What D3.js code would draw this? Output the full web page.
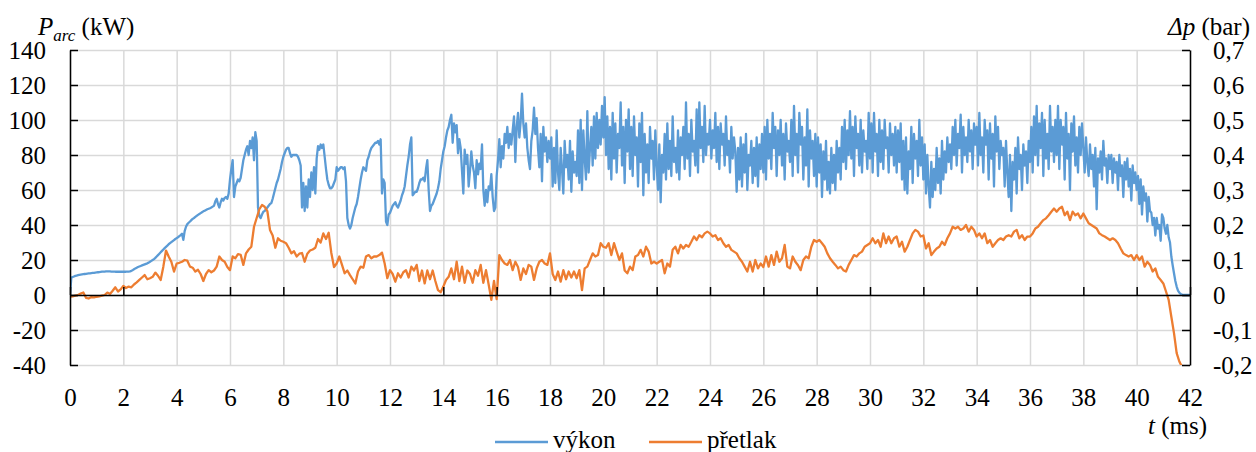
<!DOCTYPE html>
<html>
<head>
<meta charset="utf-8">
<script src="https://cdn.jsdelivr.net/npm/d3@7"></script>
<style>
  body { margin: 0; background: #fff; }
  svg text { font-family: "Liberation Serif", "DejaVu Serif", serif; fill: #000; }
</style>
</head>
<body>
<script>
// sample steps (ms)
var powerStep = 0.05;
var pressureStep = 0.1;

// výkon, kW (one row per ms)
var power = [
  0, 10, 10.3, 10.6, 10.9, 11.1, 11.3, 11.5, 11.7, 11.8, 11.9, 12.0, 12.1, 12.2, 12.3, 12.4, 12.5, 12.6, 12.7, 12.8,
  12.9, 13.0, 13.1, 13.2, 13.3, 13.4, 13.4, 13.5, 13.5, 13.5, 13.5, 13.4, 13.4, 13.4, 13.3, 13.3, 13.3, 13.3, 13.3, 13.3,
  13.3, 13.3, 13.3, 13.4, 13.4, 13.5, 13.8, 14.2, 14.7, 15.2, 15.6, 16.0, 16.3, 16.6, 16.9, 17.2, 17.5, 17.8, 18.1, 18.5,
  19.0, 19.5, 20.0, 20.5, 21.2, 22.0, 22.8, 23.6, 24.4, 25.2, 26.0, 26.8, 27.5, 28.2, 29.0, 29.6, 30.2, 30.8, 31.4, 32.0,
  32.5, 33.0, 33.6, 34.2, 35.0, 31.5, 36.5, 39.0, 40.5, 41.3, 42.0, 42.8, 43.5, 44.0, 44.6, 45.2, 45.8, 46.3, 46.8, 47.3,
  47.8, 48.2, 48.6, 49.0, 49.3, 49.6, 50.0, 50.5, 51.0, 53.5, 55.0, 52.0, 50.0, 53.0, 55.0, 54.0, 55.5, 56.0, 55.0, 58.0,
  66, 72, 77, 56, 62, 64, 66, 65, 67, 72, 77, 80, 83, 85, 80, 88, 84, 90, 77, 93,
  88, 50, 45, 44, 46, 47.6, 48, 49, 50, 51, 52, 52.5, 55, 58, 61, 64, 66, 69, 72, 76,
  79, 81, 83, 84, 84, 81, 79, 80, 80, 80, 80, 79, 77, 74, 50, 64, 48, 62, 50, 66,
  56, 70, 60, 73, 58, 78, 85, 83, 86, 84, 86, 79, 72, 66, 63, 61, 61, 62, 64, 66,
  73, 71, 72, 73, 73, 72, 73, 65, 44, 40, 38, 40, 44, 47, 50, 52, 56, 61, 66, 70,
  73, 72, 71, 77, 79, 82, 84, 85, 86, 87, 87, 88, 86, 89, 58, 66, 64, 42, 40, 46,
  47, 49, 51, 52, 53, 51, 50, 52, 54, 57, 59, 62, 68, 74, 79, 86, 90, 57, 58, 59,
  59, 61, 64, 66, 66, 67, 65, 72, 77, 60, 48, 51, 52, 54, 56, 58, 61, 65, 72, 77,
  82, 85, 90, 94, 96, 100, 103, 87, 98, 93, 97, 81, 89, 84, 71, 58, 83, 75, 80, 62,
  71, 82, 74, 70, 61, 77, 69, 75, 72, 86, 60, 51, 60, 53, 62, 60, 69, 56, 48, 50,
  68, 77, 89, 73, 85, 78, 92, 87, 96, 84, 92, 86, 94, 102, 76, 96, 104, 90, 99, 115,
  98, 90, 98, 84, 77, 72, 88, 94, 107, 92, 101, 84, 73, 92, 65, 96, 82, 90, 76, 88,
  78, 90, 62, 84, 64, 94, 70, 60, 84, 72, 58, 88, 73, 80, 66, 88, 59, 82, 70, 76,
  68, 94, 64, 100, 60, 94, 78, 66, 105, 70, 84, 96, 74, 102, 78, 104, 84, 100, 86, 108,
  90, 113, 80, 102, 72, 96, 66, 104, 78, 98, 70, 92, 84, 110, 74, 96, 64, 100, 82, 106,
  72, 96, 68, 102, 80, 90, 62, 98, 76, 104, 57, 92, 70, 86, 64, 96, 78, 88, 66, 94,
  74, 60, 86, 53, 80, 70, 92, 66, 98, 72, 88, 68, 102, 76, 84, 70, 94, 66, 90, 80,
  96, 72, 110, 78, 92, 68, 100, 82, 88, 74, 106, 70, 110, 84, 96, 76, 108, 80, 92, 86,
  100, 78, 94, 84, 104, 76, 96, 72, 98, 86, 92, 74, 102, 80, 88, 70, 96, 78, 90, 82,
  59, 84, 66, 90, 62, 86, 70, 92, 60, 80, 74, 88, 64, 84, 68, 90, 62, 86, 72, 92,
  70, 96, 66, 100, 78, 92, 72, 104, 84, 96, 68, 94, 80, 100, 74, 92, 66, 98, 82, 88,
  76, 100, 68, 108, 80, 92, 70, 104, 86, 96, 66, 90, 74, 106, 62, 94, 78, 88, 68, 92,
  62, 90, 70, 86, 56, 82, 66, 88, 60, 76, 58, 84, 64, 80, 60, 88, 70, 84, 66, 96,
  76, 100, 72, 94, 80, 105, 78, 96, 68, 102, 84, 92, 74, 100, 70, 94, 82, 88, 72, 104,
  78, 98, 70, 104, 82, 92, 68, 100, 76, 94, 72, 100, 84, 90, 70, 98, 80, 92, 74, 96,
  70, 94, 76, 98, 66, 88, 60, 90, 58, 82, 72, 96, 64, 92, 78, 88, 68, 100, 74, 90,
  66, 86, 58, 80, 62, 50, 76, 56, 72, 60, 84, 64, 78, 58, 88, 66, 82, 70, 90, 76,
  86, 72, 96, 80, 100, 74, 92, 84, 103, 70, 96, 80, 90, 76, 100, 82, 94, 72, 98, 86,
  96, 74, 104, 80, 90, 70, 100, 86, 94, 66, 98, 78, 92, 62, 102, 82, 96, 72, 88, 80,
  84, 62, 88, 70, 56, 80, 48, 76, 66, 84, 58, 90, 72, 80, 60, 86, 74, 82, 64, 88,
  76, 96, 70, 102, 80, 108, 74, 98, 84, 104, 68, 100, 78, 92, 72, 108, 82, 96, 76, 100,
  80, 108, 72, 100, 86, 96, 66, 104, 78, 92, 60, 98, 82, 102, 74, 90, 70, 96, 80, 98,
  84, 70, 90, 76, 68, 86, 72, 80, 62, 84, 49, 78, 70, 82, 66, 88, 74, 78, 64, 80,
  72, 80, 64, 78, 70, 76, 60, 80, 68, 74, 56, 76, 66, 78, 62, 72, 54, 74, 64, 70,
  60, 68, 52, 66, 46, 62, 54, 58, 42, 56, 48, 47, 40, 44, 34, 44, 38, 40, 31, 46,
  44, 38, 35, 40, 33, 30, 22, 17, 12.4, 8, 4.8, 2.5, 1.3, 0.6, 0.2, 0, 0, 0, 0, 0,
  0
];

// přetlak, bar (one row per ms)
var pressure = [
  -0.005, -0.004, -0.002, 0.000, 0.004, 0.007, -0.008, -0.010, -0.006, -0.007,
  -0.005, -0.004, -0.002, 0.000, 0.007, 0.003, 0.012, 0.022, 0.010, 0.016,
  0.026, 0.020, 0.024, 0.022, 0.030, 0.036, 0.043, 0.050, 0.057, 0.045,
  0.048, 0.052, 0.064, 0.055, 0.043, 0.081, 0.127, 0.110, 0.095, 0.067,
  0.090, 0.092, 0.095, 0.100, 0.098, 0.081, 0.078, 0.067, 0.072, 0.060,
  0.040, 0.060, 0.071, 0.065, 0.070, 0.081, 0.110, 0.100, 0.095, 0.080,
  0.071, 0.110, 0.105, 0.117, 0.115, 0.086, 0.119, 0.130, 0.138, 0.195,
  0.220, 0.245, 0.257, 0.252, 0.240, 0.186, 0.170, 0.135, 0.162, 0.155,
  0.152, 0.148, 0.135, 0.119, 0.125, 0.110, 0.118, 0.120, 0.095, 0.118,
  0.127, 0.130, 0.135, 0.160, 0.150, 0.176, 0.160, 0.178, 0.120, 0.080,
  0.090, 0.110, 0.086, 0.062, 0.070, 0.057, 0.045, 0.033, 0.067, 0.081,
  0.078, 0.110, 0.114, 0.105, 0.110, 0.110, 0.114, 0.121, 0.090, 0.048,
  0.071, 0.060, 0.038, 0.062, 0.050, 0.065, 0.071, 0.050, 0.081, 0.070,
  0.086, 0.040, 0.070, 0.033, 0.070, 0.045, 0.070, 0.040, 0.014, 0.008,
  0.024, 0.043, 0.052, 0.076, 0.045, 0.095, 0.040, 0.081, 0.035, 0.070,
  0.060, 0.035, 0.071, 0.055, 0.086, 0.035, 0.071, 0.030, -0.014, 0.040,
  -0.012, 0.114, 0.100, 0.090, 0.086, 0.100, 0.071, 0.095, 0.080, 0.043,
  0.076, 0.060, 0.086, 0.081, 0.043, 0.076, 0.095, 0.100, 0.090, 0.086,
  0.119, 0.060, 0.043, 0.067, 0.038, 0.071, 0.045, 0.067, 0.050, 0.067,
  0.048, 0.071, 0.014, 0.076, 0.081, 0.100, 0.119, 0.110, 0.114, 0.148,
  0.138, 0.135, 0.148, 0.114, 0.148, 0.124, 0.100, 0.119, 0.070, 0.062,
  0.081, 0.071, 0.110, 0.114, 0.129, 0.110, 0.138, 0.124, 0.090, 0.095,
  0.090, 0.095, 0.100, 0.062, 0.090, 0.081, 0.129, 0.138, 0.119, 0.143,
  0.133, 0.143, 0.138, 0.152, 0.167, 0.157, 0.171, 0.165, 0.176, 0.181,
  0.176, 0.167, 0.171, 0.157, 0.162, 0.148, 0.138, 0.143, 0.129, 0.124,
  0.119, 0.105, 0.095, 0.081, 0.067, 0.095, 0.067, 0.100, 0.076, 0.090,
  0.080, 0.110, 0.081, 0.114, 0.086, 0.124, 0.095, 0.105, 0.143, 0.081,
  0.076, 0.110, 0.095, 0.085, 0.071, 0.100, 0.110, 0.105, 0.138, 0.157,
  0.152, 0.157, 0.148, 0.138, 0.119, 0.105, 0.095, 0.086, 0.076, 0.081,
  0.071, 0.067, 0.086, 0.100, 0.114, 0.110, 0.119, 0.124, 0.138, 0.143,
  0.148, 0.162, 0.148, 0.157, 0.138, 0.176, 0.148, 0.167, 0.148, 0.162,
  0.167, 0.138, 0.152, 0.124, 0.138, 0.157, 0.176, 0.186, 0.181, 0.167,
  0.170, 0.133, 0.148, 0.114, 0.124, 0.133, 0.138, 0.152, 0.143, 0.162,
  0.176, 0.195, 0.190, 0.195, 0.186, 0.190, 0.200, 0.181, 0.195, 0.186,
  0.167, 0.176, 0.162, 0.176, 0.148, 0.157, 0.138, 0.148, 0.157, 0.162,
  0.157, 0.167, 0.171, 0.167, 0.181, 0.186, 0.162, 0.171, 0.157, 0.167,
  0.167, 0.176, 0.190, 0.195, 0.205, 0.214, 0.219, 0.228, 0.238, 0.247,
  0.238, 0.247, 0.252, 0.228, 0.238, 0.214, 0.238, 0.228, 0.233, 0.219,
  0.233, 0.219, 0.205, 0.200, 0.195, 0.190, 0.176, 0.171, 0.167, 0.162,
  0.157, 0.162, 0.157, 0.148, 0.133, 0.119, 0.114, 0.110, 0.114, 0.100,
  0.114, 0.100, 0.110, 0.081, 0.095, 0.086, 0.067, 0.076, 0.052, 0.043,
  0.033, 0.010, -0.014, -0.062, -0.109, -0.166, -0.190, -0.205
];

var timeTicks = d3.range(0, 43, 2);
var powerTicks = [-40, -20, 0, 20, 40, 60, 80, 100, 120, 140];
var pressureTicks = [-0.2, -0.1, 0, 0.1, 0.2, 0.3, 0.4, 0.5, 0.6, 0.7];
var seriesNames = ["výkon", "přetlak"];
var seriesColors = ["#5B9BD5", "#ED7D31"];

var W = 1256, H = 452;
var plotL = 70, plotR = 1190, plotT = 50, plotB = 365;
var FONT = "Liberation Serif, DejaVu Serif, serif";

var svg = d3.select("body").append("svg")
  .attr("width", W).attr("height", H)
  .attr("font-family", FONT);

var x = d3.scaleLinear().domain([0, 42]).range([plotL, plotR]);
var yL = d3.scaleLinear().domain([-40, 140]).range([plotB, plotT]);
var yR = d3.scaleLinear().domain([-0.2, 0.7]).range([plotB, plotT]);

// grid
svg.append("g")
  .attr("transform", "translate(0," + plotB + ")")
  .call(d3.axisBottom(x).tickValues(timeTicks).tickSize(-(plotB - plotT)).tickFormat(""))
  .call(function(g) {
    g.select(".domain").remove();
    g.selectAll("line").attr("stroke", "#d9d9d9").attr("stroke-width", 1.5);
  });
svg.append("g")
  .attr("transform", "translate(" + plotL + ",0)")
  .call(d3.axisLeft(yL).tickValues(powerTicks).tickSize(-(plotR - plotL)).tickFormat(""))
  .call(function(g) {
    g.select(".domain").remove();
    g.selectAll("line").attr("stroke", "#d9d9d9").attr("stroke-width", 1.5);
  });

// lines
svg.append("clipPath").attr("id", "plot")
  .append("rect").attr("x", plotL).attr("y", plotT - 2)
  .attr("width", plotR - plotL).attr("height", plotB - plotT + 2);

var powerLine = d3.line()
  .x(function(d, i) { return x(i * powerStep); })
  .y(function(d) { return yL(d); });
var pressureLine = d3.line()
  .x(function(d, i) { return x(i * pressureStep); })
  .y(function(d) { return yR(d); });

var plot = svg.append("g").attr("clip-path", "url(#plot)");
plot.append("path").datum(power)
  .attr("d", powerLine)
  .attr("fill", "none").attr("stroke", seriesColors[0])
  .attr("stroke-width", 2.3).attr("stroke-linejoin", "round");
plot.append("path").datum(pressure)
  .attr("d", pressureLine)
  .attr("fill", "none").attr("stroke", seriesColors[1])
  .attr("stroke-width", 2.3).attr("stroke-linejoin", "round");

function styleAxis(g) {
  g.attr("font-family", FONT).attr("font-size", 25);
  g.select(".domain").attr("stroke", "#000").attr("stroke-width", 1.5);
  g.selectAll(".tick line").attr("stroke", "#000").attr("stroke-width", 1.5);
  g.selectAll("text").attr("font-family", FONT).attr("font-size", 25);
}

// x axis at zero with inner ticks
svg.append("g")
  .attr("transform", "translate(0," + yL(0) + ")")
  .call(d3.axisBottom(x).tickValues(timeTicks).tickSizeInner(-8).tickSizeOuter(0).tickFormat(""))
  .call(styleAxis);

// x labels below plot
svg.append("g")
  .attr("transform", "translate(0," + plotB + ")")
  .call(d3.axisBottom(x).tickValues(timeTicks).tickSize(0).tickPadding(23).tickFormat(d3.format("d")))
  .call(function(g) { g.select(".domain").remove(); })
  .call(styleAxis);

svg.append("g")
  .attr("transform", "translate(" + plotL + ",0)")
  .call(d3.axisLeft(yL).tickValues(powerTicks).tickSizeInner(-8).tickSizeOuter(0).tickPadding(24)
    .tickFormat(function(d) { return String(d); }))
  .call(styleAxis);

svg.append("g")
  .attr("transform", "translate(" + plotR + ",0)")
  .call(d3.axisRight(yR).tickValues(pressureTicks).tickSizeInner(-8).tickSizeOuter(0).tickPadding(23)
    .tickFormat(function(d) { return d === 0 ? "0" : d.toFixed(1).replace(".", ","); }))
  .call(styleAxis);

// axis titles
var tl = svg.append("text").attr("x", 38).attr("y", 35).attr("font-size", 25);
tl.append("tspan").attr("font-style", "italic").text("P");
tl.append("tspan").attr("font-style", "italic").attr("font-size", 17).attr("dy", 6).text("arc");
tl.append("tspan").attr("dy", -6).text(" (kW)");

var tr = svg.append("text").attr("x", 1250).attr("y", 35)
  .attr("text-anchor", "end").attr("font-size", 25);
tr.append("tspan").attr("font-style", "italic").text("Δp");
tr.append("tspan").text(" (bar)");

var tx = svg.append("text").attr("x", 1207).attr("y", 434)
  .attr("text-anchor", "end").attr("font-size", 25);
tx.append("tspan").attr("font-style", "italic").text("t");
tx.append("tspan").text(" (ms)");

// legend
var legendX = [495, 649];
seriesNames.forEach(function(name, i) {
  svg.append("line")
    .attr("x1", legendX[i]).attr("x2", legendX[i] + 53)
    .attr("y1", 442).attr("y2", 442)
    .attr("stroke", seriesColors[i]).attr("stroke-width", 2.5);
  svg.append("text")
    .attr("x", legendX[i] + 58).attr("y", 448)
    .attr("font-size", 25)
    .text(name);
});
</script>
</body>
</html>
